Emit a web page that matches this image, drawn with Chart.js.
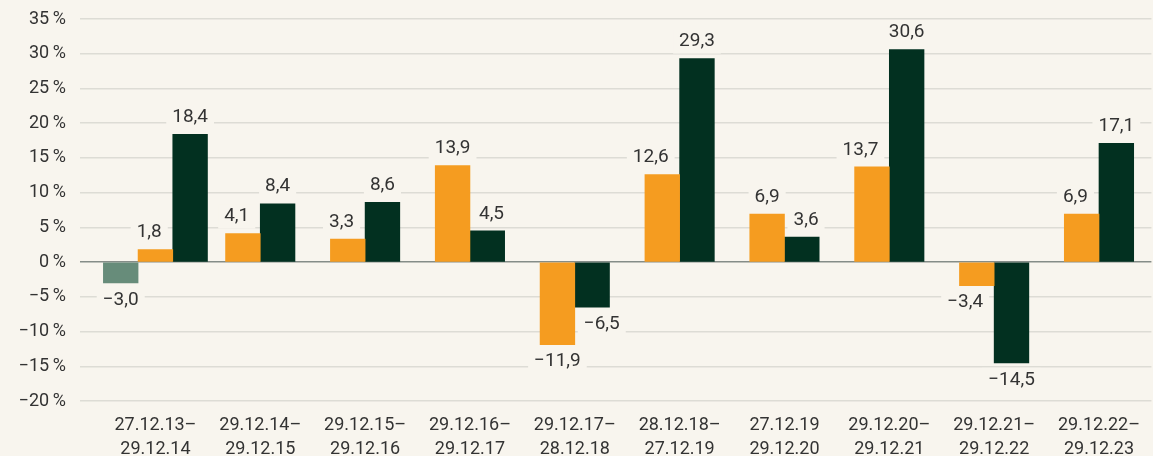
<!DOCTYPE html>
<html>
<head>
<meta charset="utf-8">
<script src="https://cdn.jsdelivr.net/npm/chart.js@4.4.1/dist/chart.umd.min.js"></script>
<style>
  html, body { margin: 0; padding: 0; background: #f8f5ee; }
  #wrap { width: 1153px; height: 456px; }
</style>
</head>
<body>
<div id="wrap"><canvas id="perfChart"></canvas></div>
<script>
// Chart data
const periods = [
    ['27.12.13–', '29.12.14'],
    ['29.12.14–', '29.12.15'],
    ['29.12.15–', '29.12.16'],
    ['29.12.16–', '29.12.17'],
    ['29.12.17–', '28.12.18'],
    ['28.12.18–', '27.12.19'],
    ['27.12.19', '29.12.20'],
    ['29.12.20–', '29.12.21'],
    ['29.12.21–', '29.12.22'],
    ['29.12.22–', '29.12.23']
];
const firstYear = [-3.0, null, null, null, null, null, null, null, null, null];
const seriesOrange = [1.8, 4.1, 3.3, 13.9, -11.9, 12.6, 6.9, 13.7, -3.4, 6.9];
const seriesGreen = [18.4, 8.4, 8.6, 4.5, -6.5, 29.3, 3.6, 30.6, -14.5, 17.1];
const yTicks = [-20, -15, -10, -5, 0, 5, 10, 15, 20, 25, 30, 35];

const BG = '#f8f5ee';
const TEXT = '#333333';
const FONT = 'Roboto, "Noto Sans", sans-serif';

// Format numbers German style with real minus sign
function fmt(v, digits) {
    const s = Math.abs(v).toFixed(digits).replace('.', ',');
    return (v < 0 ? '\u2212' : '') + s;
}

// Value labels with a background box, nudged away from a taller neighbour bar
const valueLabels = {
    id: 'valueLabels',
    afterDatasetsDraw(chart) {
        const ctx = chart.ctx;
        const metas = chart.data.datasets.map((d, i) => chart.getDatasetMeta(i));
        ctx.save();
        ctx.font = '19px ' + FONT;
        ctx.textBaseline = 'middle';
        chart.data.labels.forEach((lbl, idx) => {
            const bars = [];
            metas.forEach((meta, di) => {
                const v = chart.data.datasets[di].data[idx];
                if (v !== null && v !== undefined) bars.push({ el: meta.data[idx], v });
            });
            bars.forEach((b, k) => {
                const el = b.el;
                const half = el.width / 2;
                const y = b.v >= 0 ? el.y - 17 : el.y + 17;
                const text = fmt(b.v, 1);
                const w = ctx.measureText(text).width;
                const next = bars[k + 1];
                const prev = bars[k - 1];
                let x = el.x;
                if (next && Math.sign(next.v) === Math.sign(b.v) && Math.abs(next.v) > Math.abs(b.v)) {
                    x = el.x + half - 11 - w / 2;
                } else if (prev && Math.sign(prev.v) === Math.sign(b.v) && Math.abs(prev.v) > Math.abs(b.v)) {
                    x = el.x - half + 9 + w / 2;
                }
                ctx.fillStyle = BG;
                ctx.fillRect(x - w / 2 - 6, y - 12, w + 12, 24);
                ctx.fillStyle = TEXT;
                ctx.textAlign = 'center';
                ctx.fillText(text, x, y);
            });
        });
        ctx.restore();
    }
};

const ctx = document.getElementById('perfChart').getContext('2d');
const perfChart = new Chart(ctx, {
    type: 'bar',
    data: {
        labels: periods,
        datasets: [{
            label: 'Series A',
            data: firstYear,
            backgroundColor: '#678c7a'
        }, {
            label: 'Series B',
            data: seriesOrange,
            backgroundColor: '#f59c20'
        }, {
            label: 'Series C',
            data: seriesGreen,
            backgroundColor: '#023020'
        }]
    },
    options: {
        responsive: true,
        maintainAspectRatio: false,
        animation: false,
        skipNull: true,
        barThickness: 34.7,
        layout: { padding: { top: 19, right: 0, left: 0, bottom: 0 } },
        plugins: {
            legend: { display: false },
            tooltip: { enabled: false }
        },
        scales: {
            x: {
                offset: true,
                grid: { display: false, drawTicks: false },
                border: { display: false },
                ticks: {
                    color: TEXT,
                    font: { family: FONT, size: 18, lineHeight: 1.3 },
                    padding: 13,
                    maxRotation: 0,
                    autoSkip: false
                },
                afterFit: (scale) => { scale.height = 55; }
            },
            y: {
                min: -20,
                max: 35,
                afterBuildTicks: (scale) => { scale.ticks = yTicks.map(v => ({ value: v })); },
                grid: {
                    color: (c) => c.tick && c.tick.value === 0 ? '#858d88' : '#dddcd5',
                    lineWidth: 1.5,
                    drawTicks: true,
                    tickLength: 23
                },
                border: { display: false },
                ticks: {
                    color: TEXT,
                    font: { family: FONT, size: 18 },
                    padding: 14,
                    callback: (v) => fmt(v, 0) + '\u2009%'
                },
                afterFit: (scale) => {
                    scale.width = 103;
                    scale.paddingTop = 0;
                    scale.paddingBottom = 0;
                }
            }
        }
    },
    plugins: [valueLabels]
});
</script>
</body>
</html>
